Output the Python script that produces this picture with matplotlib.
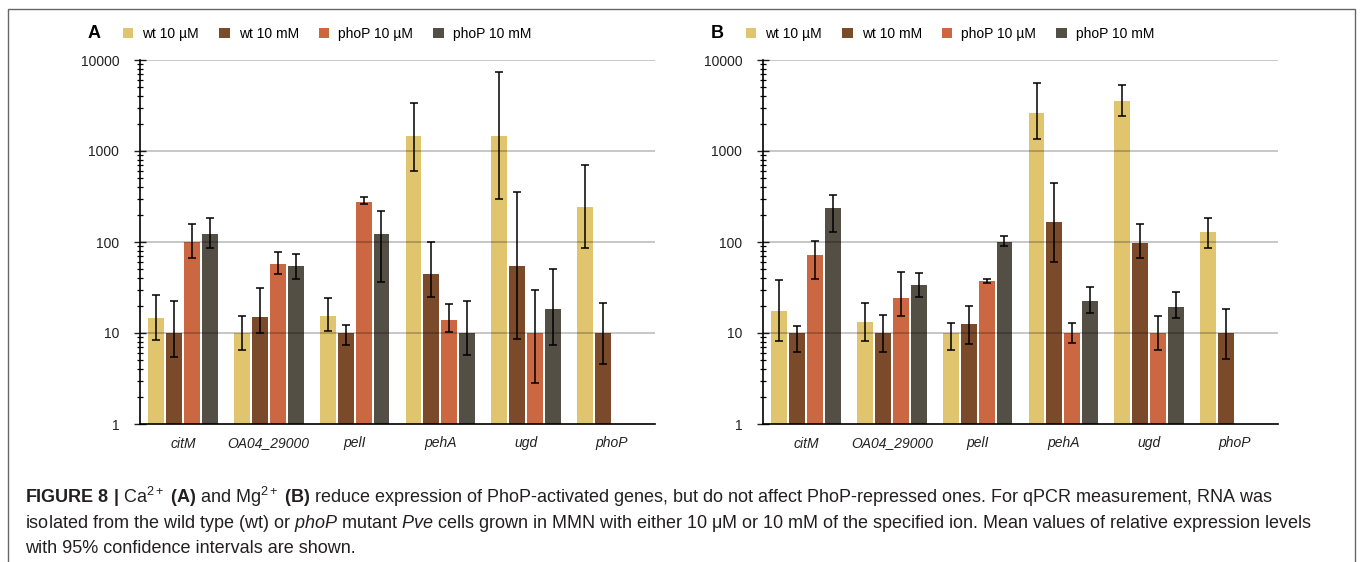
import numpy as np
import matplotlib.pyplot as plt
from matplotlib.patches import Rectangle

plt.rcParams['font.family'] = ['Liberation Sans', 'DejaVu Sans']
plt.rcParams['mathtext.fontset'] = 'custom'
plt.rcParams['mathtext.rm'] = 'Liberation Sans'
plt.rcParams['mathtext.it'] = 'Liberation Sans:italic'
plt.rcParams['mathtext.bf'] = 'Liberation Sans:bold'

genes = ['citM', 'OA04_29000', 'pelI', 'pehA', 'ugd', 'phoP']
series = ['wt 10 µM', 'wt 10 mM', 'phoP 10 µM', 'phoP 10 mM']
colors = ['#E0C46E', '#7B4A2A', '#CB6841', '#544F45']
nan = np.nan

# panel A (Ca2+): mean, lower and upper 95% CI
a_wt_um = [14.5, 10, 15.5, 1450, 1450, 240]
a_wt_um_lo = [8.4, 6.5, 10.5, 610, 297, 86]
a_wt_um_hi = [26, 15.4, 24, 3400, 7450, 700]
a_wt_mm = [10, 15, 10, 44, 54, 10]
a_wt_mm_lo = [5.4, 10.1, 7.3, 25, 8.7, 4.6]
a_wt_mm_hi = [22.5, 31, 12.2, 100, 357, 21.5]
a_pho_um = [101, 58, 277, 13.9, 10, nan]
a_pho_um_lo = [66, 44, 259, 10.2, 2.85, nan]
a_pho_um_hi = [158, 77, 310, 20.6, 30, nan]
a_pho_mm = [122, 55, 122, 10, 18.2, nan]
a_pho_mm_lo = [86, 39, 36.6, 5.8, 7.3, nan]
a_pho_mm_hi = [182, 74.5, 219, 22.5, 51, nan]

# panel B (Mg2+)
b_wt_um = [17.5, 13.3, 10, 2640, 3570, 128]
b_wt_um_lo = [8.1, 8.1, 6.45, 1370, 2425, 86]
b_wt_um_hi = [38, 21.5, 12.8, 5540, 5310, 182]
b_wt_mm = [10, 10, 12.4, 164, 97.5, 10]
b_wt_mm_lo = [6.2, 6.2, 7.5, 61, 66, 5.2]
b_wt_mm_hi = [11.8, 15.9, 19.8, 445, 156, 18.5]
b_pho_um = [72, 24.4, 37, 10, 10, nan]
b_pho_um_lo = [39, 15.2, 35.1, 7.8, 6.45, nan]
b_pho_um_hi = [103, 47, 39.2, 12.8, 15.4, nan]
b_pho_mm = [238, 34, 100, 22.5, 19.3, nan]
b_pho_mm_lo = [130, 24.9, 89.6, 16.4, 14.7, nan]
b_pho_mm_hi = [328, 45.3, 116, 32.3, 28, nan]

panel_a = [(a_wt_um, a_wt_um_lo, a_wt_um_hi), (a_wt_mm, a_wt_mm_lo, a_wt_mm_hi),
           (a_pho_um, a_pho_um_lo, a_pho_um_hi), (a_pho_mm, a_pho_mm_lo, a_pho_mm_hi)]
panel_b = [(b_wt_um, b_wt_um_lo, b_wt_um_hi), (b_wt_mm, b_wt_mm_lo, b_wt_mm_hi),
           (b_pho_um, b_pho_um_lo, b_pho_um_hi), (b_pho_mm, b_pho_mm_lo, b_pho_mm_hi)]

W, H = 1360, 562
fig = plt.figure(figsize=(W / 100, H / 100), dpi=100)

# outer frame
fig.add_artist(Rectangle((8 / W, -0.05), 1347 / W, 1.05 - 9 / H, transform=fig.transFigure,
                         fill=False, edgecolor='#666666', lw=1))

x = np.arange(len(genes))
pitch = 0.209
width = 0.186


def draw_panel(left, data, letter):
    ax = fig.add_axes([left / W, 1 - 424 / H, 515 / W, 364 / H])
    ax.set_yscale('log')
    for i, (mean, lo, hi) in enumerate(data):
        mean = np.array(mean, dtype=float)
        err = [mean - np.array(lo), np.array(hi) - mean]
        pos = x + (i - 1.5) * pitch
        ax.bar(pos, mean, width, color=colors[i], label=series[i], zorder=2)
        ax.errorbar(pos, mean, yerr=err, fmt='none', ecolor='black', elinewidth=1.1,
                    capsize=3, capthick=1.1, zorder=4)
    ax.set_ylim(1, 10000)
    ax.set_xlim(-0.5, 5.5)
    for v in [10, 100, 1000, 10000]:
        ax.axhline(v, color='black', alpha=0.22, lw=1.4, zorder=3)
    ax.set_yticks([1, 10, 100, 1000, 10000])
    ax.set_yticklabels(['1', '10', '100', '1000', '10000'])
    ax.set_xticks(x)
    ax.set_xticklabels(genes, fontstyle='italic', fontsize=10, color='#222222')
    ax.tick_params(axis='x', length=0, pad=9)
    ax.tick_params(axis='y', which='major', direction='inout', length=8, width=1,
                   labelsize=10, colors='#222222', pad=11)
    ax.tick_params(axis='y', which='minor', direction='inout', length=5, width=0.9)
    for s in ['top', 'right']:
        ax.spines[s].set_visible(False)
    ax.spines['left'].set_linewidth(1.2)
    ax.spines['bottom'].set_linewidth(1.2)
    fig.text((left - 52) / W, 1 - 34 / H, letter, fontsize=13, fontweight='bold',
             va='center', ha='left')
    ax.legend(loc='center left', bbox_to_anchor=((left - 17) / W, 1 - 34 / H),
              bbox_transform=fig.transFigure, ncol=4, frameon=False, fontsize=10,
              handlelength=0.75, handleheight=0.75, handletextpad=0.65,
              columnspacing=1.45, borderpad=0, borderaxespad=0)
    return ax


draw_panel(140, panel_a, 'A')
draw_panel(763, panel_b, 'B')

caption = [
    r'$\mathbf{FIGURE\ 8\ |}$ Ca$^{2+}$ $\mathbf{(A)}$ and Mg$^{2+}$ $\mathbf{(B)}$ reduce expression of '
    r'PhoP-activated genes, but do not affect PhoP-repressed ones. For qPCR measurement, RNA was',
    r'isolated from the wild type (wt) or $\mathit{phoP}$ mutant $\mathit{Pve}$ cells grown in MMN with '
    r'either 10 μM or 10 mM of the specified ion. Mean values of relative expression levels',
    'with 95% confidence intervals are shown.',
]
for k, line in enumerate(caption):
    fig.text(25 / W, 1 - (503 + 25 * k) / H, line, fontsize=13, color='#231F20',
             ha='left', va='baseline')

fig.savefig('out.png', dpi=100)
